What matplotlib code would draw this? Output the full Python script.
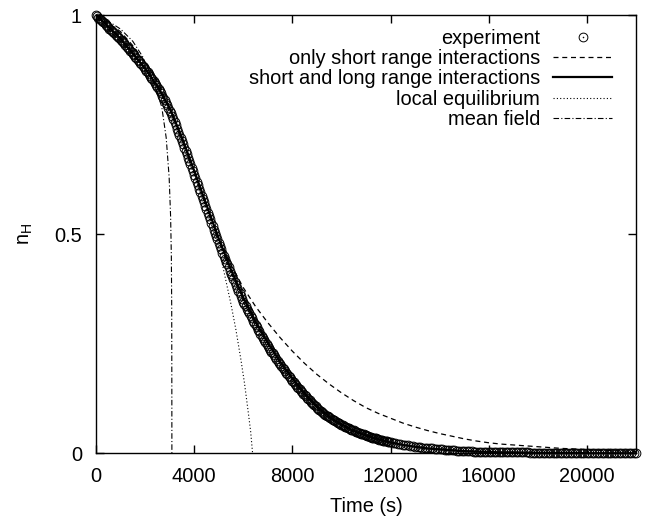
import numpy as np
import matplotlib
matplotlib.use("Agg")
import matplotlib.pyplot as plt
from matplotlib.legend_handler import HandlerTuple

plt.rcParams['font.family'] = ['Liberation Sans', 'DejaVu Sans']
plt.rcParams['mathtext.fontset'] = 'custom'
plt.rcParams['mathtext.rm'] = 'Liberation Sans'

FS = 14.4

# measured fraction n_H (every 50 s up to 12000 s, then every 100 s)
exp_time = np.concatenate([np.arange(0, 12001, 50), np.arange(12100, 22001, 100)])
exp_nh = [
    1.000, 0.997, 0.994, 0.992, 0.989, 0.986, 0.983, 0.981, 0.978, 0.975, 0.972,
    0.969, 0.966, 0.964, 0.961, 0.958, 0.955, 0.953, 0.950, 0.947, 0.944,
    0.941, 0.938, 0.935, 0.931, 0.928, 0.925, 0.922, 0.918, 0.915, 0.912,
    0.909, 0.905, 0.902, 0.898, 0.895, 0.891, 0.888, 0.884, 0.881, 0.877,
    0.873, 0.869, 0.865, 0.861, 0.857, 0.853, 0.849, 0.845, 0.841, 0.836,
    0.831, 0.826, 0.821, 0.816, 0.811, 0.805, 0.800, 0.794, 0.788, 0.782,
    0.776, 0.769, 0.762, 0.755, 0.748, 0.741, 0.734, 0.727, 0.720, 0.712,
    0.705, 0.697, 0.690, 0.682, 0.674, 0.666, 0.659, 0.651, 0.643, 0.635,
    0.627, 0.619, 0.612, 0.604, 0.596, 0.588, 0.581, 0.573, 0.565, 0.557,
    0.549, 0.541, 0.534, 0.526, 0.518, 0.510, 0.503, 0.495, 0.488, 0.480,
    0.473, 0.466, 0.458, 0.451, 0.444, 0.437, 0.431, 0.424, 0.417, 0.410,
    0.404, 0.397, 0.391, 0.384, 0.378, 0.371, 0.365, 0.358, 0.352, 0.346,
    0.341, 0.335, 0.330, 0.324, 0.319, 0.313, 0.308, 0.302, 0.297, 0.292,
    0.287, 0.282, 0.278, 0.273, 0.268, 0.263, 0.259, 0.254, 0.250, 0.245,
    0.240, 0.236, 0.232, 0.228, 0.224, 0.219, 0.215, 0.211, 0.207, 0.203,
    0.199, 0.195, 0.192, 0.188, 0.184, 0.180, 0.177, 0.173, 0.170, 0.166,
    0.162, 0.159, 0.155, 0.152, 0.149, 0.146, 0.142, 0.139, 0.136, 0.133,
    0.130, 0.127, 0.124, 0.121, 0.118, 0.115, 0.113, 0.110, 0.107, 0.104,
    0.101, 0.099, 0.097, 0.095, 0.092, 0.090, 0.088, 0.086, 0.084, 0.082,
    0.080, 0.078, 0.077, 0.075, 0.073, 0.071, 0.070, 0.068, 0.067, 0.065,
    0.064, 0.062, 0.061, 0.059, 0.058, 0.057, 0.055, 0.054, 0.053, 0.052,
    0.051, 0.049, 0.048, 0.047, 0.046, 0.045, 0.044, 0.043, 0.042, 0.041,
    0.040, 0.039, 0.038, 0.037, 0.036, 0.035, 0.035, 0.034, 0.033, 0.032,
    0.031, 0.031, 0.030, 0.029, 0.028, 0.028, 0.027, 0.026, 0.026, 0.025,
    # 12100 .. 22000
    0.024, 0.023, 0.022, 0.021, 0.020, 0.019, 0.018, 0.017, 0.016, 0.015,
    0.015, 0.014, 0.013, 0.013, 0.012, 0.011, 0.011, 0.010, 0.010, 0.009,
    0.009, 0.008, 0.008, 0.008, 0.007, 0.007, 0.006, 0.006, 0.006, 0.005,
    0.005, 0.005, 0.005, 0.004, 0.004, 0.004, 0.004, 0.004, 0.003, 0.003,
    0.003, 0.003, 0.003, 0.003, 0.003, 0.003, 0.002, 0.002, 0.002, 0.002,
    0.002, 0.002, 0.002, 0.002, 0.002, 0.002, 0.001, 0.001, 0.001, 0.001,
    0.001, 0.001, 0.001, 0.001, 0.001, 0.001, 0.001, 0.001, 0.001, 0.001,
    0.001, 0.001, 0.001, 0.001, 0.001, 0.001, 0.001, 0.001, 0.001, 0.001,
    0.001, 0.001, 0.001, 0.001, 0.001, 0.000, 0.000, 0.000, 0.000, 0.000,
    0.000, 0.000, 0.000, 0.000, 0.000, 0.000, 0.000, 0.000, 0.000, 0.000,
]

# model curves
model_time = np.arange(0, 22001, 500)
short_nh = [
    1.000, 0.982, 0.962, 0.930, 0.893, 0.848, 0.790, 0.720, 0.642, 0.565,
    0.490, 0.430, 0.378, 0.335, 0.298, 0.264, 0.233, 0.205, 0.180, 0.158,
    0.138, 0.120, 0.104, 0.091, 0.080, 0.069, 0.060, 0.052, 0.045, 0.039,
    0.033, 0.028, 0.024, 0.021, 0.019, 0.017, 0.015, 0.013, 0.011, 0.010,
    0.008, 0.007, 0.006, 0.005, 0.004,
]
full_nh = [
    1.000, 0.973, 0.945, 0.913, 0.878, 0.838, 0.788, 0.720, 0.645, 0.567,
    0.490, 0.419, 0.355, 0.300, 0.252, 0.209, 0.171, 0.137, 0.107, 0.084,
    0.066, 0.051, 0.041, 0.032, 0.025, 0.019, 0.015, 0.011, 0.009, 0.007,
    0.005, 0.004, 0.003, 0.002, 0.002, 0.001, 0.001, 0.001, 0.001, 0.001,
    0.000, 0.000, 0.000, 0.000, 0.000,
]

local_time = [0, 1000, 2000, 3000, 4000, 4500, 4800, 5000, 5250, 5500,
              5700, 5900, 6050, 6200, 6300, 6380]
local_nh = [1.000, 0.944, 0.877, 0.782, 0.635, 0.557, 0.505, 0.470, 0.405, 0.340,
            0.282, 0.215, 0.160, 0.095, 0.050, 0.000]

mf_time = [0, 500, 1000, 1500, 1900, 2200, 2450, 2680, 2860, 2980,
           3040, 3070, 3085, 3090, 3092]
mf_nh = [1.000, 0.986, 0.968, 0.940, 0.905, 0.866, 0.830, 0.790, 0.720, 0.630,
         0.540, 0.450, 0.330, 0.150, 0.000]

fig = plt.figure(figsize=(6.46, 5.23), dpi=100)
ax = fig.add_axes([0.1486, 0.1333, 0.8359, 0.838])

rings, = ax.plot(exp_time, exp_nh, ls='none', marker='o', ms=6.3, mfc='none',
                 mec='black', mew=0.7, clip_on=False, zorder=3)
dots, = ax.plot(exp_time, exp_nh, ls='none', marker='o', ms=0.8, mfc='black',
                mec='black', mew=0.3, clip_on=False, zorder=3)
short_line, = ax.plot(model_time, short_nh, color='black', lw=0.9,
                      dashes=(4, 3), zorder=2)
full_line, = ax.plot(model_time, full_nh, color='black', lw=1.6, zorder=4)
local_line, = ax.plot(local_time, local_nh, color='black', lw=0.8,
                      dashes=(1, 2), zorder=2)
mf_line, = ax.plot(mf_time, mf_nh, color='black', lw=0.8,
                   dashes=(5, 2, 1, 2), zorder=2)

ax.set_xlim(0, 22000)
ax.set_ylim(0, 1)
ax.set_xticks([0, 4000, 8000, 12000, 16000, 20000])
ax.set_yticks([0, 0.5, 1])
ax.set_yticklabels(['0', '0.5', '1'])
ax.tick_params(direction='in', length=6, width=1, top=True, right=True,
               labelsize=FS, pad=10)
for s in ax.spines.values():
    s.set_linewidth(1.0)

ax.set_xlabel('Time (s)', fontsize=FS, labelpad=8)
ax.set_ylabel(r'n$_\mathregular{H}$', fontsize=FS, labelpad=14)

leg = ax.legend([(rings, dots), short_line, full_line, local_line, mf_line],
                ['experiment', 'only short range interactions',
                 'short and long range interactions', 'local equilibrium',
                 'mean field'],
                handler_map={tuple: HandlerTuple(ndivide=1)},
                loc='upper right', bbox_to_anchor=(0.9556, 0.968),
                frameon=False, markerfirst=False, numpoints=1, fontsize=FS,
                handlelength=2.95, handletextpad=0.65, labelspacing=0.06,
                borderaxespad=0, borderpad=0)

fig.savefig('out.png', dpi=100)
